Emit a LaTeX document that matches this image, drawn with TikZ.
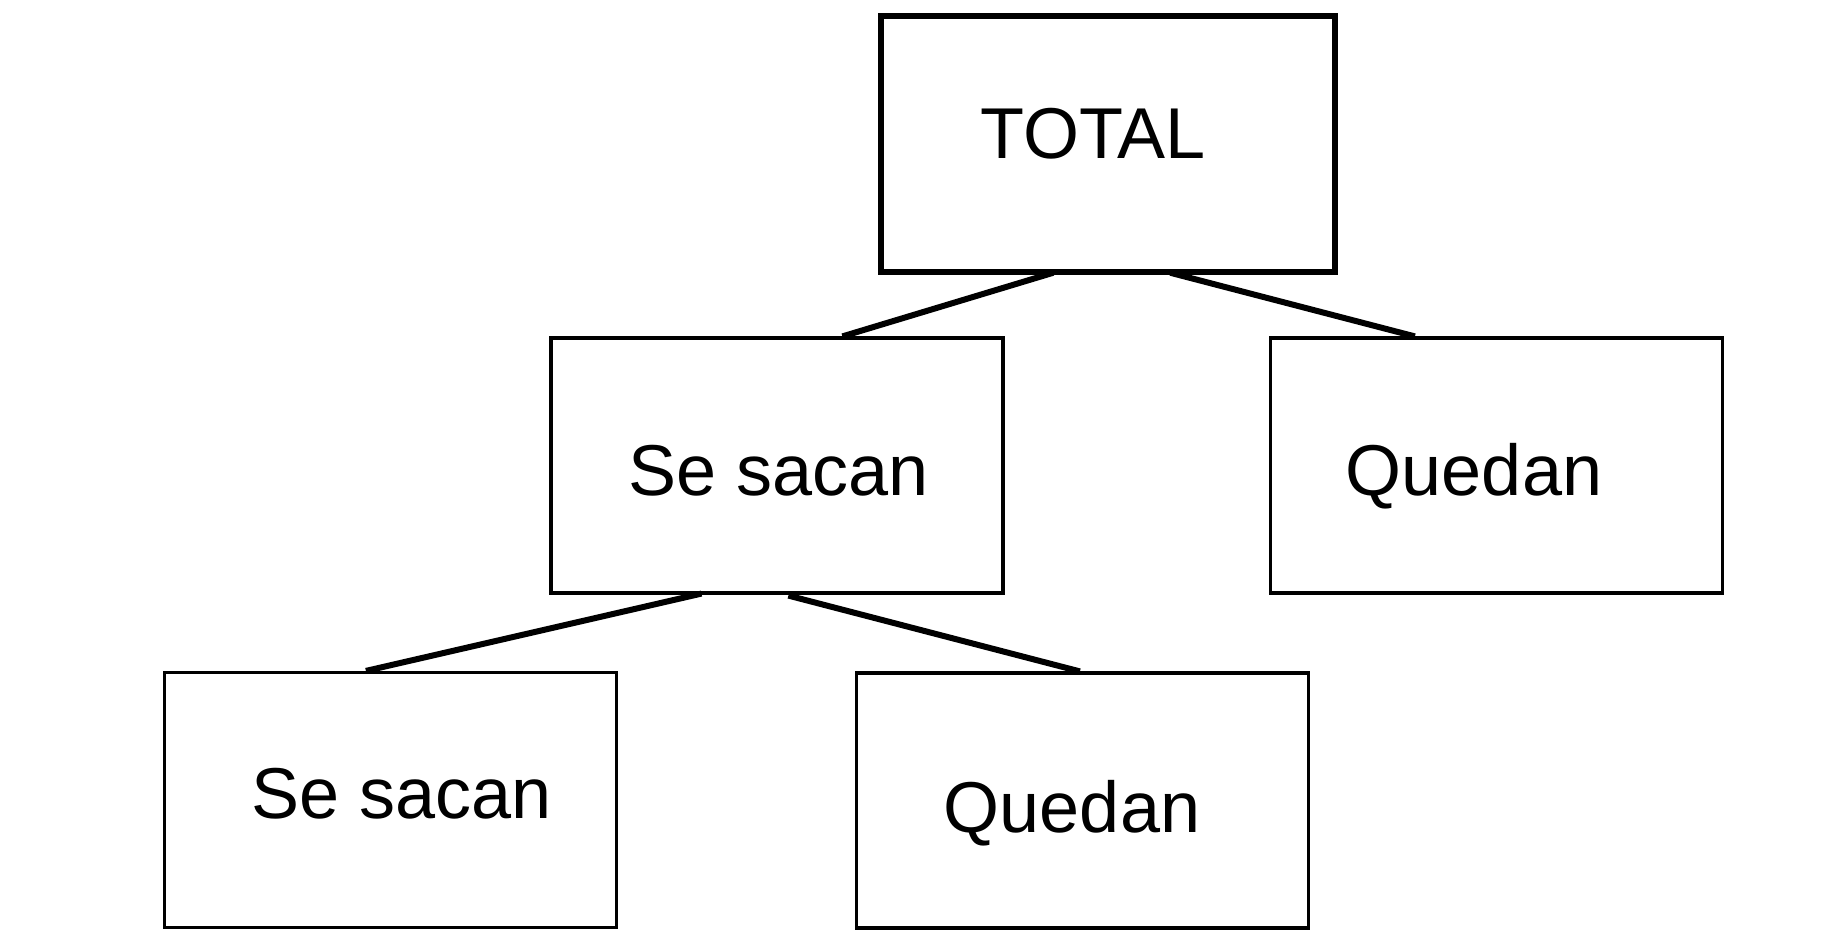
\documentclass[tikz,border=0pt]{standalone}
\usepackage{fontspec}
\setmainfont{Liberation Sans}
\begin{document}
\begin{tikzpicture}[x=1pt,y=-1pt,
  box/.style={draw=black,rectangle,inner sep=0pt,line width=3.2pt,minimum width=452pt,minimum height=255pt},
  topbox/.style={box,line width=5.5pt,minimum width=454pt,minimum height=256pt},
  lbl/.style={inner sep=0pt,anchor=base,font=\fontsize{72}{80}\selectfont},
  conn/.style={draw=black,line width=6pt}]
\useasboundingbox (0,0) rectangle (1839,939);
\node[topbox] (tot) at (1108,144) {};
\node[box] (m1) at (777,465.5) {};
\node[box] (m2) at (1496.5,465.5) {};
\node[box] (b1) at (390.5,800) {};
\node[box] (b2) at (1082.5,800.5) {};
\node[lbl] (t0) at (1093,158) {TOTAL};
\node[lbl] (t1) at (779,495) {Se sacan};
\node[lbl] (t2) at (1474,495) {Quedan};
\node[lbl] (t3) at (402,818) {Se sacan};
\node[lbl] (t4) at (1072,832) {Quedan};
\draw[conn] ([xshift=175pt,yshift=2pt]tot.south west) -- ([xshift=293pt]m1.north west);
\draw[conn] ([xshift=292pt,yshift=2pt]tot.south west) -- ([xshift=146pt]m2.north west);
\draw[conn] ([xshift=152pt,yshift=1pt]m1.south west) -- ([xshift=203pt]b1.north west);
\draw[conn] ([xshift=239pt,yshift=-1pt]m1.south west) -- ([xshift=225pt]b2.north west);
\end{tikzpicture}
\end{document}
